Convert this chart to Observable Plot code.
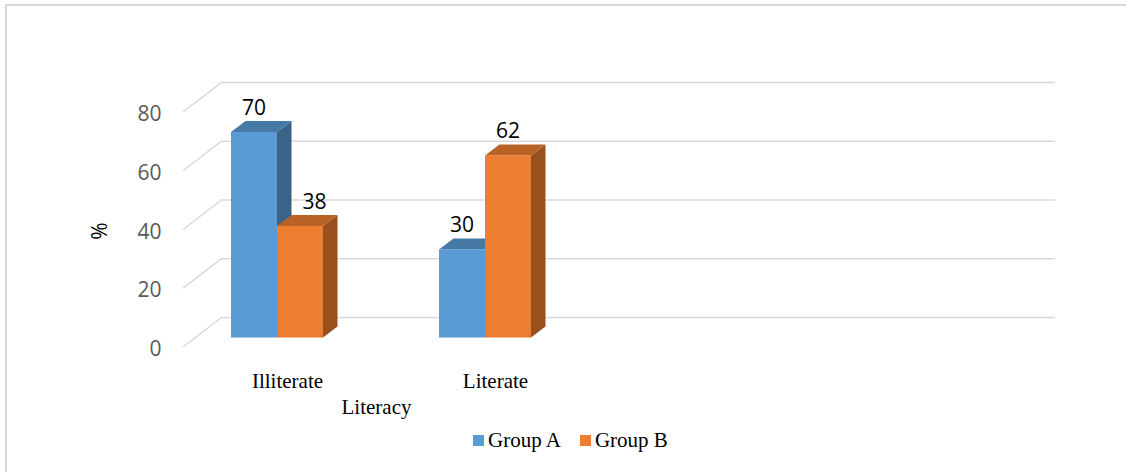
<!DOCTYPE html>
<html>
<head>
<meta charset="utf-8">
<script src="https://cdn.jsdelivr.net/npm/d3@7"></script>
<script src="https://cdn.jsdelivr.net/npm/@observablehq/plot@0.6"></script>
<style>
  body { margin: 0; background: #fff; }
  #chart { position: relative; width: 1126px; height: 472px; overflow: hidden; background: #fff; }
  #chart .edge-top { position: absolute; left: 5px; right: 0; top: 4px; height: 2px; background: #d9d9d9; }
  #chart .edge-left { position: absolute; left: 5px; top: 4px; bottom: 0; width: 2px; background: #d9d9d9; }
  #chart svg { position: absolute; left: 0; top: 0; }
  #legend { position: absolute; left: 473px; top: 428px; height: 24px; display: flex; align-items: center;
            font-family: "Liberation Serif", "Times New Roman", serif; font-size: 21px; color: #000; }
  #legend .item { display: flex; align-items: center; margin-right: 19px; }
  #legend .swatch { width: 11px; height: 11px; margin-right: 4px; }
</style>
</head>
<body>
<div id="chart">
  <div class="edge-top"></div>
  <div class="edge-left"></div>
  <div id="legend"></div>
</div>
<script>
// Share of each group by literacy status (%)
const categories = ["Illiterate", "Literate"];
const groups = ["Group A", "Group B"];
const groupA = [70, 30];
const groupB = [38, 62];
const yTicks = [0, 20, 40, 60, 80];
const xTitle = "Literacy";
const yTitle = "%";

const rows = categories.flatMap((category, i) => [
  {category, group: groups[0], value: groupA[i]},
  {category, group: groups[1], value: groupB[i]}
]);

// Oblique projection used for the 3-D look (pixel offsets)
const WALL = {dx: 39, dy: -30};        // back wall relative to the front edge of the floor
const BAR_PLANE = {dx: 0, dy: -9.5};   // plane of the column front faces
const BAR_DEPTH = {dx: 14.5, dy: -11}; // thickness of a column
const BAR_W = 46;
const CLUSTER_SHIFT = -10;             // cluster centre relative to its slot centre
const SHADE = {top: 0.78, side: 0.64};
const GRID = "#d9d9d9";
const SANS = "'Open Sans', 'DejaVu Sans', sans-serif";
const SERIF = "'Liberation Serif', 'Times New Roman', serif";

const shade = (c, k) => { const r = d3.rgb(c); return d3.rgb(r.r * k, r.g * k, r.b * k).formatHex(); };
const bandwidthOf = (s) => typeof s.bandwidth === "function" ? s.bandwidth() : s.bandwidth;

// Diagonal edges joining the front of the floor to the back wall at each tick
function wallEdges(index, scales, values, dimensions) {
  const g = d3.create("svg:g").attr("stroke", GRID).attr("stroke-width", 1.5).attr("fill", "none");
  const x0 = dimensions.marginLeft;
  for (const i of index) {
    const y = scales.y(yTicks[i]);
    g.append("line").attr("x1", x0).attr("y1", y).attr("x2", x0 + WALL.dx).attr("y2", y + WALL.dy);
  }
  return g.node();
}

// Columns drawn as front, top and side faces, with their value labels
function columns3d(index, scales, values, dimensions) {
  const g = d3.create("svg:g");
  const bw = bandwidthOf(scales.x);
  const poly = (pts, fill) => g.append("polygon").attr("points", pts.map(p => p.join(",")).join(" ")).attr("fill", fill);
  const labels = [];
  for (const i of index) {
    const d = rows[i];
    const gi = groups.indexOf(d.group);
    const fill = scales.color ? scales.color(d.group) : values.fill[i];
    const center = scales.x(d.category) + bw / 2 + CLUSTER_SHIFT + BAR_PLANE.dx;
    const left = center - BAR_W + gi * BAR_W;
    const right = left + BAR_W;
    const yTop = scales.y(d.value) + BAR_PLANE.dy;
    const yBase = scales.y(0) + BAR_PLANE.dy;
    const {dx, dy} = BAR_DEPTH;
    poly([[right, yBase], [right, yTop], [right + dx, yTop + dy], [right + dx, yBase + dy]], shade(fill, SHADE.side));
    poly([[left, yTop], [right, yTop], [right + dx, yTop + dy], [left + dx, yTop + dy]], shade(fill, SHADE.top));
    g.append("rect").attr("x", left).attr("y", yTop).attr("width", BAR_W).attr("height", yBase - yTop).attr("fill", fill);
    // a label sitting next to a taller neighbour moves clear of its side face
    const neighbour = rows.find(r => r.category === d.category && groups.indexOf(r.group) === gi - 1);
    const nudge = neighbour && neighbour.value > d.value ? dx : 0;
    labels.push({x: (left + right) / 2 + nudge, y: yTop - 24.5, text: String(d.value)});
  }
  for (const l of labels) {
    g.append("text").attr("x", l.x).attr("y", l.y).attr("text-anchor", "middle").attr("dy", "0.35em")
      .attr("font-family", SANS).attr("font-size", 21).attr("fill", "#000").text(l.text);
  }
  return g.node();
}

const plot = Plot.plot({
  width: 1126,
  height: 472,
  marginLeft: 183,
  marginRight: 110,
  marginTop: 112,
  marginBottom: 125,
  style: {background: "transparent", overflow: "visible"},
  x: {domain: categories, range: [183, 599], padding: 0, axis: null},
  y: {domain: [0, 80], range: [347, 112], axis: null},
  color: {domain: groups, range: ["#5B9BD5", "#ED7D31"]},
  marks: [
    // back-wall gridlines
    Plot.ruleY(yTicks, {y: d => d, dx: WALL.dx, dy: WALL.dy, stroke: GRID, strokeWidth: 1.5}),
    Plot.ruleY(yTicks, {y: d => d, render: wallEdges}),
    // value axis
    Plot.text(yTicks, {y: d => d, text: d => String(d), frameAnchor: "left", textAnchor: "end",
      dx: -22, dy: 2, fill: "#595959", fontSize: 21, fontFamily: SANS}),
    Plot.text([yTitle], {text: d => d, frameAnchor: "left", textAnchor: "middle", rotate: -90, dx: -83, dy: 1,
      fill: "#000", fontSize: 21, fontFamily: SANS}),
    // columns
    Plot.barY(rows, {x: "category", y: "value", fill: "group", render: columns3d}),
    // category axis
    Plot.text(categories, {x: d => d, text: d => d, frameAnchor: "bottom", dy: 40,
      fill: "#000", fontSize: 21, fontFamily: SERIF}),
    Plot.text([xTitle], {text: d => d, frameAnchor: "bottom-left", textAnchor: "middle", dx: 193, dy: 66,
      fill: "#000", fontSize: 21, fontFamily: SERIF})
  ]
});

const chart = document.getElementById("chart");
chart.insertBefore(plot, chart.firstChild);

// legend built from the plot's colour scale
const color = plot.scale("color");
const legend = d3.select("#legend");
color.domain.forEach((g, i) => {
  const item = legend.append("div").attr("class", "item");
  item.append("div").attr("class", "swatch").style("background", color.range[i]);
  item.append("span").text(g);
});
</script>
</body>
</html>
